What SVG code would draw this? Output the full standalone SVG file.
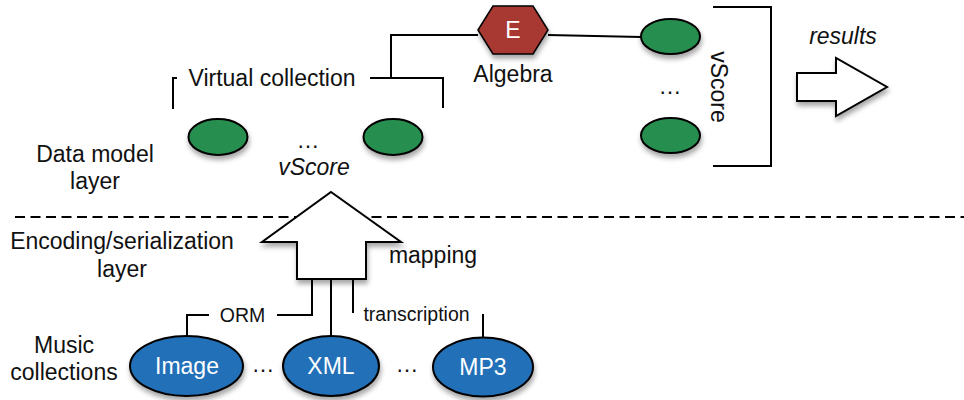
<svg xmlns="http://www.w3.org/2000/svg" width="964" height="400" viewBox="0 0 964 400">
<style>
text{font-family:"Liberation Sans",Arial,Helvetica,sans-serif;fill:#111}
.lbl{font-size:23px;text-anchor:middle}
.sm{font-size:19.5px}
.it{font-style:italic}
.wt{fill:#fff;font-size:23px;text-anchor:middle}
.ln{fill:none;stroke:#000;stroke-width:2}
.ge{fill:#288f50;stroke:#000;stroke-width:2}
.be{fill:#2470b8;stroke:#000;stroke-width:2}
</style>
<defs>
<filter id="sh" x="-20%" y="-20%" width="140%" height="160%">
<feDropShadow dx="1" dy="4" stdDeviation="2.5" flood-color="#000" flood-opacity="0.35"/>
</filter>
</defs>
<rect width="964" height="400" fill="#fff"/>

<g id="layer-labels">
<text class="lbl" x="95" y="162">Data model</text>
<text class="lbl" x="95" y="189">layer</text>
<text class="lbl" x="122" y="249">Encoding/serialization</text>
<text class="lbl" x="122" y="277">layer</text>
<text class="lbl" x="64" y="353">Music</text>
<text class="lbl" x="64" y="380">collections</text>
</g>

<g id="separator">
<line x1="15" y1="217" x2="964" y2="217" stroke="#000" stroke-width="2" stroke-dasharray="10 5.5"/>
</g>

<g id="connectors">
<polyline class="ln" points="177,78 173,78 173,109"/>
<polyline class="ln" points="370,78 443,78 443,108"/>
<polyline class="ln" points="391,78 391,35 478,35"/>
<polyline class="ln" points="548,35 641,37"/>
<polyline class="ln" points="713,7 771,7 771,166 713,166"/>
<polyline class="ln" points="312,279 312,315 277,315"/>
<polyline class="ln" points="209,315 187,315 187,336"/>
<line class="ln" x1="331" y1="279" x2="331" y2="337"/>
<line class="ln" x1="353" y1="279" x2="353" y2="313"/>
<line class="ln" x1="483" y1="314" x2="483" y2="338"/>
</g>

<g id="virtual-collection">
<text class="lbl" x="272" y="86">Virtual collection</text>
<ellipse class="ge" filter="url(#sh)" cx="218" cy="137" rx="29.5" ry="18"/>
<ellipse class="ge" filter="url(#sh)" cx="393" cy="137" rx="29.5" ry="18"/>
<text class="lbl" x="308" y="148">…</text>
<text class="lbl it" x="314" y="175">vScore</text>
</g>

<g id="algebra">
<polygon filter="url(#sh)" points="478,30 493,6 533,6 548,30 533,54 493,54" fill="#a83732" stroke="#000" stroke-width="1.5"/>
<text class="wt" x="513" y="38">E</text>
<text class="lbl" x="513" y="82">Algebra</text>
</g>

<g id="result-vscore">
<ellipse class="ge" filter="url(#sh)" cx="670.5" cy="36.5" rx="29.5" ry="17.5"/>
<ellipse class="ge" filter="url(#sh)" cx="670.5" cy="135.5" rx="29.5" ry="17.5"/>
<text class="lbl" x="670" y="94">…</text>
<text class="lbl" transform="translate(711,87) rotate(90)" x="0" y="0">vScore</text>
</g>

<g id="results">
<text class="lbl it" x="843" y="44">results</text>
<polygon filter="url(#sh)" points="797,73 836,73 836,58 887,87 836,116 836,101 797,101" fill="#fff" stroke="#000" stroke-width="2"/>
</g>

<g id="mapping-arrow">
<polygon filter="url(#sh)" points="331,192 401,242 366,242 366,279 297,279 297,242 262,242" fill="#fff" stroke="#000" stroke-width="2"/>
<text class="lbl" x="433" y="263">mapping</text>
</g>

<g id="edge-labels">
<text class="sm" x="242.5" y="322" text-anchor="middle">ORM</text>
<text class="sm" x="416.5" y="321" text-anchor="middle">transcription</text>
</g>

<g id="image">
<ellipse class="be" filter="url(#sh)" cx="186.5" cy="366" rx="56.5" ry="30"/>
<text class="wt" x="187" y="374">Image</text>
</g>
<text class="lbl" x="263" y="372">…</text>
<g id="xml">
<ellipse class="be" filter="url(#sh)" cx="331" cy="366" rx="48" ry="30"/>
<text class="wt" x="331" y="374">XML</text>
</g>
<text class="lbl" x="407" y="372">…</text>
<g id="mp3">
<ellipse class="be" filter="url(#sh)" cx="483" cy="367" rx="50" ry="29.5"/>
<text class="wt" x="483" y="375">MP3</text>
</g>
</svg>
